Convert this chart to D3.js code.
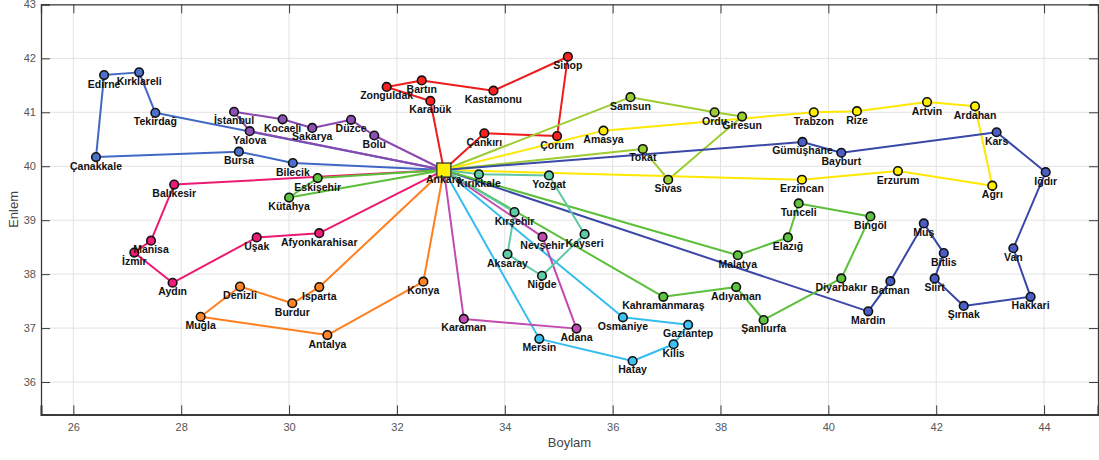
<!DOCTYPE html>
<html><head><meta charset="utf-8">
<script src="https://cdn.jsdelivr.net/npm/d3@7"></script>
<style>
html,body{margin:0;padding:0;background:#fff;}
svg{display:block;}
</style></head>
<body>
<svg id="chart" width="1099" height="460"></svg>
<script>
// ---- Data ----
const cityNames = ["Ankara","Bilecik","Bursa","Çanakkale","Edirne","Kırklareli","Tekirdağ",
 "İstanbul","Yalova","Kocaeli","Sakarya","Düzce","Bolu",
 "Karabük","Zonguldak","Bartın","Kastamonu","Sinop","Çorum","Çankırı",
 "Samsun","Ordu","Giresun","Sivas","Tokat",
 "Amasya","Trabzon","Rize","Artvin","Ardahan","Ağrı","Erzurum","Erzincan",
 "Gümüşhane","Bayburt","Kars","Iğdır","Van","Hakkari","Şırnak","Siirt","Bitlis","Muş","Batman","Mardin",
 "Malatya","Elazığ","Tunceli","Bingöl","Diyarbakır","Şanlıurfa","Adıyaman","Kahramanmaraş",
 "Osmaniye","Gaziantep","Kilis","Hatay","Mersin",
 "Nevşehir","Adana","Karaman",
 "Kırıkkale","Yozgat","Kayseri","Niğde","Aksaray","Kırşehir",
 "Konya","Antalya","Muğla","Denizli","Burdur","Isparta",
 "Afyonkarahisar","Uşak","Aydın","İzmir","Manisa","Balıkesir",
 "Eskişehir","Kütahya"];
const cityLon = [32.87,30.07,29.07,26.42,26.57,27.22,27.52,
 28.98,29.27,29.88,30.43,31.15,31.58,
 32.62,31.81,32.46,33.79,35.17,34.97,33.62,
 36.33,37.89,38.40,37.03,36.56,
 35.83,39.73,40.53,41.83,42.72,43.04,41.29,39.51,
 39.52,40.24,43.12,44.03,43.43,43.75,42.51,41.97,42.14,41.77,41.15,40.74,
 38.32,39.25,39.45,40.78,40.24,38.80,38.29,36.94,
 36.19,37.40,37.13,36.37,34.64,
 34.70,35.33,33.24,
 33.52,34.82,35.48,34.69,34.05,34.18,
 32.49,30.71,28.36,29.09,30.06,30.56,
 30.56,29.40,27.84,27.13,27.44,27.87,
 30.53,30.00];
const cityLat = [39.93,40.06,40.27,40.17,41.69,41.74,40.99,
 41.01,40.65,40.87,40.71,40.86,40.57,
 41.21,41.47,41.59,41.40,42.03,40.56,40.61,
 41.28,41.00,40.92,39.75,40.32,
 40.66,41.00,41.02,41.19,41.11,39.64,39.91,39.75,
 40.45,40.25,40.63,39.89,38.48,37.58,37.41,37.92,38.39,38.94,37.87,37.31,
 38.35,38.68,39.31,39.07,37.92,37.15,37.76,37.58,
 37.20,37.06,36.70,36.39,36.80,
 38.69,36.99,37.17,
 39.85,39.83,38.74,37.97,38.37,39.15,
 37.86,36.87,37.21,37.77,37.46,37.76,
 38.76,38.68,37.84,38.40,38.62,39.66,
 39.78,39.42];

const routeBlue = ["Ankara","Bilecik","Bursa","Çanakkale","Edirne","Kırklareli","Tekirdağ","Ankara"];
const routePurple = ["Ankara","Bolu","Düzce","Sakarya","Kocaeli","İstanbul","Yalova","Ankara"];
const routeRed = ["Ankara","Karabük","Zonguldak","Bartın","Kastamonu","Sinop","Çorum","Çankırı","Ankara"];
const routeYellowGreen = ["Ankara","Samsun","Ordu","Giresun","Sivas","Tokat","Ankara"];
const routeYellow = ["Ankara","Amasya","Trabzon","Rize","Artvin","Ardahan","Ağrı","Erzurum","Erzincan","Ankara"];
const routeNavy = ["Ankara","Gümüşhane","Bayburt","Kars","Iğdır","Van","Hakkari","Şırnak","Siirt","Bitlis","Muş","Batman","Mardin","Ankara"];
const routeGreen = ["Ankara","Kahramanmaraş","Adıyaman","Şanlıurfa","Diyarbakır","Bingöl","Tunceli","Elazığ","Malatya","Ankara"];
const routeCyan = ["Ankara","Osmaniye","Gaziantep","Kilis","Hatay","Mersin","Ankara"];
const routeMagenta = ["Ankara","Nevşehir","Adana","Karaman","Ankara"];
const routeTeal = ["Ankara","Kırıkkale","Yozgat","Kayseri","Niğde","Aksaray","Kırşehir","Ankara"];
const routeOrange = ["Ankara","Konya","Antalya","Muğla","Denizli","Burdur","Isparta","Ankara"];
const routePink = ["Ankara","Afyonkarahisar","Uşak","Aydın","İzmir","Manisa","Balıkesir","Ankara"];
const routeLime = ["Ankara","Eskişehir","Kütahya","Ankara"];

const xTicks = [26,28,30,32,34,36,38,40,42,44];
const yTicks = [36,37,38,39,40,41,42,43];
const xLabel = "Boylam", yLabel = "Enlem";

// ---- Styles ----
const routes = [
 {c: routeBlue, line:"#4169c4", fill:"#4a72cc"},
 {c: routePurple, line:"#8a48b0", fill:"#8e4fb6"},
 {c: routeRed, line:"#ee1c1c", fill:"#ff2020"},
 {c: routeYellowGreen, line:"#9ccc30", fill:"#9acd32"},
 {c: routeYellow, line:"#ffe800", fill:"#ffee00"},
 {c: routeNavy, line:"#3a48a8", fill:"#4a5ec6"},
 {c: routeGreen, line:"#5cbf3a", fill:"#5ec43e"},
 {c: routeCyan, line:"#35bdef", fill:"#3ec2f2"},
 {c: routeMagenta, line:"#c24ab0", fill:"#c24ab2"},
 {c: routeTeal, line:"#5ec8a4", fill:"#5fcca8"},
 {c: routeOrange, line:"#ff7f1e", fill:"#ff8426"},
 {c: routePink, line:"#ec1a72", fill:"#f01c78"},
 {c: routeLime, line:"#5cbf3a", fill:"#5ec43e"}
];

const svg = d3.select("#chart");
const x = d3.scaleLinear().domain([25.4, 45]).range([41, 1098]);
const y = d3.scaleLinear().domain([35.4, 43]).range([414.4, 4.4]);
const idx = new Map(cityNames.map((n,i)=>[n,i]));
const P = n => { const i = idx.get(n); return [x(cityLon[i]), y(cityLat[i])]; };

// grid
const g = svg.append("g");
g.selectAll("line.gx").data(xTicks).join("line")
 .attr("x1", d=>x(d)).attr("x2", d=>x(d)).attr("y1", y(43)).attr("y2", y(35.4))
 .attr("stroke","#e2e2e2").attr("stroke-width",1);
g.selectAll("line.gy").data(yTicks).join("line")
 .attr("y1", d=>y(d)).attr("y2", d=>y(d)).attr("x1", x(25.4)).attr("x2", x(45))
 .attr("stroke","#e2e2e2").attr("stroke-width",1);

// axes
const xAxis = d3.axisBottom(x).tickValues(xTicks).tickSize(-9).tickPadding(9).tickFormat(d3.format("d"));
const yAxis = d3.axisLeft(y).tickValues(yTicks).tickSize(-9).tickPadding(5).tickFormat(d3.format("d"));
const xa = svg.append("g").attr("transform",`translate(0,${y(35.4)})`).call(xAxis);
const ya = svg.append("g").attr("transform",`translate(${x(25.4)},0)`).call(yAxis);
const xt = svg.append("g").attr("transform",`translate(0,${y(43)})`).call(d3.axisTop(x).tickValues(xTicks).tickSize(-9).tickFormat(""));
const yr = svg.append("g").attr("transform",`translate(${x(45)},0)`).call(d3.axisRight(y).tickValues(yTicks).tickSize(-9).tickFormat(""));
[xa,ya,xt,yr].forEach(a=>{
  a.select(".domain").attr("stroke","#3a3a3a").attr("stroke-width",1.3);
  a.selectAll(".tick line").attr("stroke","#3a3a3a");
  a.selectAll(".tick text").attr("fill","#555").style("font-family","Liberation Sans, Arial, sans-serif").style("font-size","11px");
});
xa.select(".domain").attr("stroke-width",2);

svg.append("text").attr("x", (x(25.4)+x(45))/2).attr("y", 447).attr("text-anchor","middle")
 .attr("fill","#444").style("font-family","Liberation Sans, Arial, sans-serif").style("font-size","13px").text(xLabel);
svg.append("text").attr("transform",`translate(18,${(y(35.4)+y(43))/2}) rotate(-90)`).attr("text-anchor","middle")
 .attr("fill","#444").style("font-family","Liberation Sans, Arial, sans-serif").style("font-size","13px").text(yLabel);

// routes
const line = d3.line();
const lg = svg.append("g");
routes.forEach(r=>{
  lg.append("path").attr("d", line(r.c.map(P))).attr("fill","none")
    .attr("stroke", r.line).attr("stroke-width",2).attr("stroke-linejoin","round");
});
const mg = svg.append("g");
routes.forEach(r=>{
  mg.selectAll(null).data(r.c.filter(n=>n!=="Ankara")).join("circle")
    .attr("cx", d=>P(d)[0]).attr("cy", d=>P(d)[1]).attr("r",4.3)
    .attr("fill", r.fill).attr("stroke","#111").attr("stroke-width",1.6);
});
const a0 = P("Ankara");
mg.append("rect").attr("x",a0[0]-7).attr("y",a0[1]-7).attr("width",14).attr("height",14)
  .attr("fill","#ffee00").attr("stroke","#333").attr("stroke-width",1.3);

// labels
svg.append("g").selectAll("text").data(cityNames).join("text")
 .attr("x", d=>P(d)[0]).attr("y", d=>P(d)[1]+12.5).attr("text-anchor","middle")
 .attr("fill","#111").style("font-family","Liberation Sans, Arial, sans-serif")
 .style("font-size","10.5px").style("font-weight","bold").text(d=>d);
</script>
</body></html>
